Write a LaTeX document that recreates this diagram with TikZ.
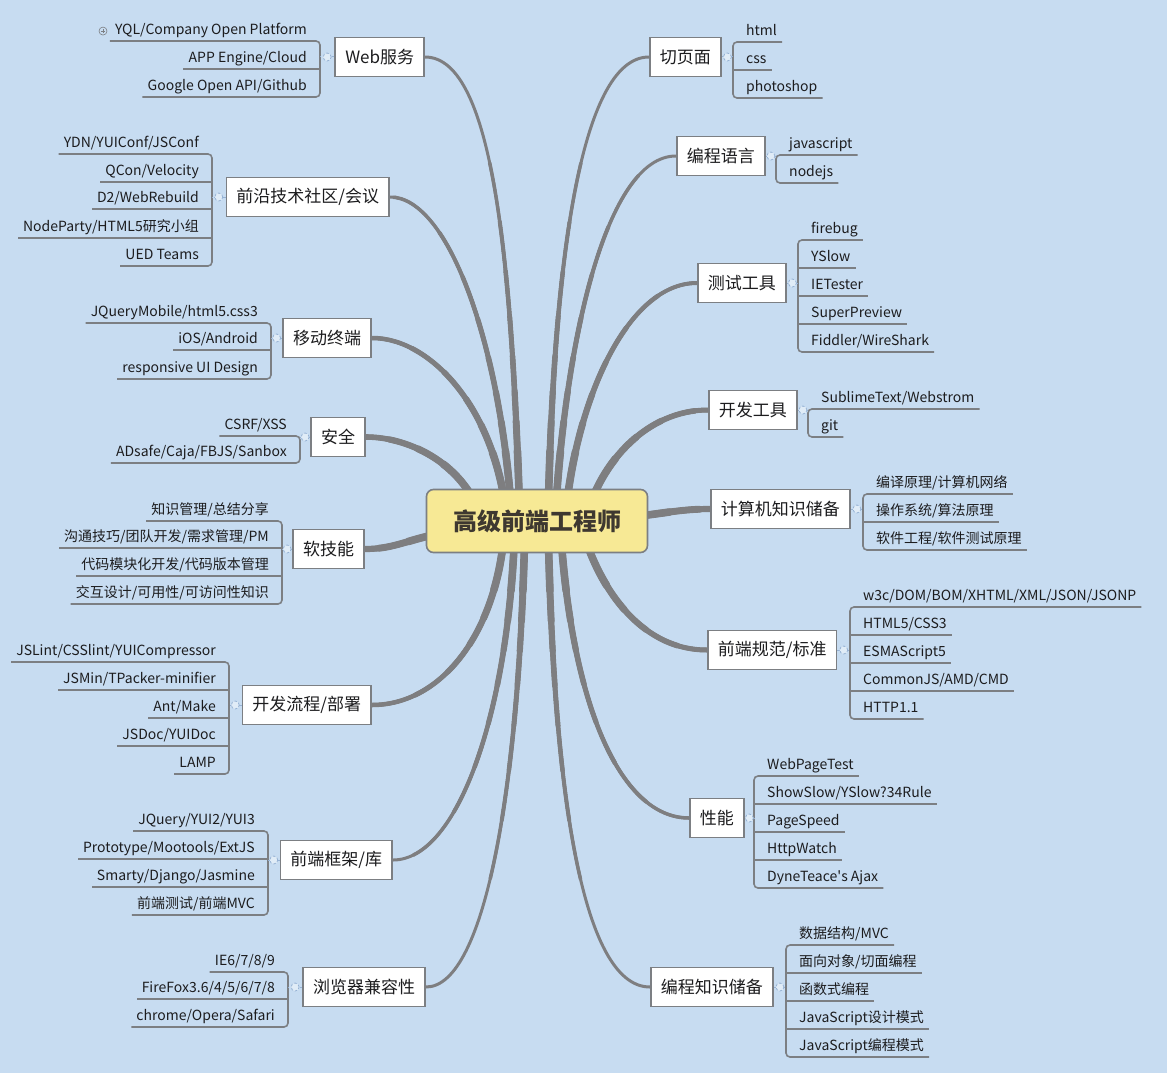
\documentclass[tikz,border=0pt]{standalone}
\usepackage{fontspec}
\setmainfont{Noto Sans CJK SC}
\usetikzlibrary{positioning,backgrounds}

\definecolor{paper}{RGB}{199,220,241}
\definecolor{limbgray}{RGB}{126,126,128}
\definecolor{boxgray}{RGB}{124,127,131}
\definecolor{hubfill}{RGB}{247,233,149}
\definecolor{hubtext}{RGB}{62,56,48}
\definecolor{inkdark}{RGB}{28,28,30}
\definecolor{stubblue}{RGB}{150,178,212}

\tikzset{
  hub/.style={draw=boxgray, fill=hubfill, line width=1.6pt, rounded corners=7pt, minimum width=221pt, minimum height=63pt, font=\fontsize{24}{28}\selectfont\bfseries, text=hubtext},
  topic/.style={draw=boxgray, fill=white, line width=1.8pt, inner xsep=10pt, minimum height=39pt, font=\fontsize{17}{20}\selectfont, text=inkdark},
  leaf/.style={inner xsep=5pt, inner ysep=3pt, text height=10pt, text depth=3.5pt, font=\fontsize{14}{16}\selectfont, text=inkdark},
  twig/.style={draw=boxgray, line width=1.6pt, rounded corners=4pt},
  stub/.style={draw=stubblue, line width=1pt, dash pattern=on 2.5pt off 2pt},
  knob/.style={circle, draw=stubblue, fill=paper!55!white, line width=0.8pt, minimum size=8pt, inner sep=0pt},
  plusknob/.style={circle, draw=boxgray, line width=0.6pt, minimum size=8pt, inner sep=0pt,
    path picture={\draw[boxgray, line width=0.6pt] ([xshift=-2pt]path picture bounding box.center) -- ([xshift=2pt]path picture bounding box.center) ([yshift=-2pt]path picture bounding box.center) -- ([yshift=2pt]path picture bounding box.center);}},
  limb/.style={draw=limbgray, line width=3pt, line cap=round,
    preaction={draw=limbgray, line width=3.5pt, line cap=round, dash pattern=on 360pt off 3000pt},
    preaction={draw=limbgray, line width=4pt, line cap=round, dash pattern=on 300pt off 3000pt},
    preaction={draw=limbgray, line width=4.5pt, line cap=round, dash pattern=on 250pt off 3000pt},
    preaction={draw=limbgray, line width=5pt, line cap=round, dash pattern=on 205pt off 3000pt},
    preaction={draw=limbgray, line width=5.6pt, line cap=round, dash pattern=on 165pt off 3000pt},
    preaction={draw=limbgray, line width=6.2pt, line cap=round, dash pattern=on 130pt off 3000pt},
    preaction={draw=limbgray, line width=6.9pt, line cap=round, dash pattern=on 100pt off 3000pt},
    preaction={draw=limbgray, line width=7.6pt, line cap=round, dash pattern=on 70pt off 3000pt}}
}

\begin{document}
\begin{tikzpicture}[x=1pt,y=-1pt]
	\useasboundingbox (0,0) rectangle (1167,1073);

	% Center
	\node[hub] (hub) at (537,521) {高级前端工程师};

	% Left topics
	\node[topic, anchor=east] (web) at (425,57) {Web服务};
	\node[topic, anchor=east] (forum) at (390,197) {前沿技术社区/会议};
	\node[topic, anchor=east] (mobile) at (372,338) {移动终端};
	\node[topic, anchor=east] (safe) at (366,437) {安全};
	\node[topic, anchor=east] (soft) at (365,549) {软技能};
	\node[topic, anchor=east] (flow) at (372,705) {开发流程/部署};
	\node[topic, anchor=east] (lib) at (393,860) {前端框架/库};
	\node[topic, anchor=east] (compat) at (426,987) {浏览器兼容性};

	% Right topics
	\node[topic, anchor=west] (slice) at (649,57) {切页面};
	\node[topic, anchor=west] (lang) at (676,156) {编程语言};
	\node[topic, anchor=west] (testt) at (697,283) {测试工具};
	\node[topic, anchor=west] (devt) at (708,410) {开发工具};
	\node[topic, anchor=west] (cs) at (710,509) {计算机知识储备};
	\node[topic, anchor=west] (spec) at (707,650) {前端规范/标准};
	\node[topic, anchor=west] (perf) at (689,818) {性能};
	\node[topic, anchor=west] (pk) at (650,987) {编程知识储备};

	% Junctions
	\coordinate (webj) at (320,57);
	\coordinate (forumj) at (212,197);
	\coordinate (mobilej) at (271,338);
	\coordinate (safej) at (300,437);
	\coordinate (softj) at (282,549);
	\coordinate (flowj) at (229,705);
	\coordinate (libj) at (268,860);
	\coordinate (compatj) at (288,987);
	\coordinate (slicej) at (733,57);
	\coordinate (langj) at (776,156);
	\coordinate (testtj) at (798,283);
	\coordinate (devtj) at (808,410);
	\coordinate (csj) at (863,509);
	\coordinate (specj) at (850,650);
	\coordinate (perfj) at (754,818);
	\coordinate (pkj) at (786,987);

	% Web服务
	\node[leaf, anchor=south east] (web1) at (312,41) {YQL/Company Open Platform};
	\node[leaf, anchor=south east] (web2) at (312,69) {APP Engine/Cloud};
	\node[leaf, anchor=south east] (web3) at (312,97) {Google Open API/Github};
	\node[plusknob, left=2.5pt of web1] (web1plus) {};
	\draw[twig] (web1.south west) -- (webj |- web1.south) -- (webj |- web3.south) -- (web3.south west);
	\draw[twig] (webj |- web2.south) -- (web2.south west);
	\draw[stub] (web.west) -- node[knob] (webk) {} (webj);

	% 前沿技术社区/会议
	\node[leaf, anchor=south east] (forum1) at (204,154) {YDN/YUIConf/JSConf};
	\node[leaf, anchor=south east] (forum2) at (204,182) {QCon/Velocity};
	\node[leaf, anchor=south east] (forum3) at (204,209) {D2/WebRebuild};
	\node[leaf, anchor=south east] (forum4) at (204,238) {NodeParty/HTML5研究小组};
	\node[leaf, anchor=south east] (forum5) at (204,266) {UED Teams};
	\draw[twig] (forum1.south west) -- (forumj |- forum1.south) -- (forumj |- forum5.south) -- (forum5.south west);
	\foreach \k in {2,3,4} \draw[twig] (forumj |- forum\k.south) -- (forum\k.south west);
	\draw[stub] (forum.west) -- node[knob] (forumk) {} (forumj);

	% 移动终端
	\node[leaf, anchor=south east] (mobile1) at (263,323) {JQueryMobile/html5.css3};
	\node[leaf, anchor=south east] (mobile2) at (263,350) {iOS/Android};
	\node[leaf, anchor=south east] (mobile3) at (263,379) {responsive UI Design};
	\draw[twig] (mobile1.south west) -- (mobilej |- mobile1.south) -- (mobilej |- mobile3.south) -- (mobile3.south west);
	\draw[twig] (mobilej |- mobile2.south) -- (mobile2.south west);
	\draw[stub] (mobile.west) -- node[knob] (mobilek) {} (mobilej);

	% 安全
	\node[leaf, anchor=south east] (safe1) at (292,436) {CSRF/XSS};
	\node[leaf, anchor=south east] (safe2) at (292,463) {ADsafe/Caja/FBJS/Sanbox};
	\draw[twig] (safe1.south west) -- (safej |- safe1.south) -- (safej |- safe2.south) -- (safe2.south west);
	\draw[stub] (safe.west) -- node[knob] (safek) {} (safej);

	% 软技能
	\node[leaf, anchor=south east] (soft1) at (274,521) {知识管理/总结分享};
	\node[leaf, anchor=south east] (soft2) at (274,548) {沟通技巧/团队开发/需求管理/PM};
	\node[leaf, anchor=south east] (soft3) at (274,576) {代码模块化开发/代码版本管理};
	\node[leaf, anchor=south east] (soft4) at (274,604) {交互设计/可用性/可访问性知识};
	\draw[twig] (soft1.south west) -- (softj |- soft1.south) -- (softj |- soft4.south) -- (soft4.south west);
	\foreach \k in {2,3} \draw[twig] (softj |- soft\k.south) -- (soft\k.south west);
	\draw[stub] (soft.west) -- node[knob] (softk) {} (softj);

	% 开发流程/部署
	\node[leaf, anchor=south east] (flow1) at (221,662) {JSLint/CSSlint/YUICompressor};
	\node[leaf, anchor=south east] (flow2) at (221,690) {JSMin/TPacker-minifier};
	\node[leaf, anchor=south east] (flow3) at (221,718) {Ant/Make};
	\node[leaf, anchor=south east] (flow4) at (221,746) {JSDoc/YUIDoc};
	\node[leaf, anchor=south east] (flow5) at (221,774) {LAMP};
	\draw[twig] (flow1.south west) -- (flowj |- flow1.south) -- (flowj |- flow5.south) -- (flow5.south west);
	\foreach \k in {2,3,4} \draw[twig] (flowj |- flow\k.south) -- (flow\k.south west);
	\draw[stub] (flow.west) -- node[knob] (flowk) {} (flowj);

	% 前端框架/库
	\node[leaf, anchor=south east] (lib1) at (260,831) {JQuery/YUI2/YUI3};
	\node[leaf, anchor=south east] (lib2) at (260,859) {Prototype/Mootools/ExtJS};
	\node[leaf, anchor=south east] (lib3) at (260,887) {Smarty/Django/Jasmine};
	\node[leaf, anchor=south east] (lib4) at (260,915) {前端测试/前端MVC};
	\draw[twig] (lib1.south west) -- (libj |- lib1.south) -- (libj |- lib4.south) -- (lib4.south west);
	\foreach \k in {2,3} \draw[twig] (libj |- lib\k.south) -- (lib\k.south west);
	\draw[stub] (lib.west) -- node[knob] (libk) {} (libj);

	% 浏览器兼容性
	\node[leaf, anchor=south east] (compat1) at (280,972) {IE6/7/8/9};
	\node[leaf, anchor=south east] (compat2) at (280,999) {FireFox3.6/4/5/6/7/8};
	\node[leaf, anchor=south east] (compat3) at (280,1027) {chrome/Opera/Safari};
	\draw[twig] (compat1.south west) -- (compatj |- compat1.south) -- (compatj |- compat3.south) -- (compat3.south west);
	\draw[twig] (compatj |- compat2.south) -- (compat2.south west);
	\draw[stub] (compat.west) -- node[knob] (compatk) {} (compatj);

	% 切页面
	\node[leaf, anchor=south west] (slice1) at (741,42) {html};
	\node[leaf, anchor=south west] (slice2) at (741,70) {css};
	\node[leaf, anchor=south west] (slice3) at (741,98) {photoshop};
	\draw[twig] (slice1.south east) -- (slicej |- slice1.south) -- (slicej |- slice3.south) -- (slice3.south east);
	\draw[twig] (slicej |- slice2.south) -- (slice2.south east);
	\draw[stub] (slice.east) -- node[knob] (slicek) {} (slicej);

	% 编程语言
	\node[leaf, anchor=south west] (lang1) at (784,155) {javascript};
	\node[leaf, anchor=south west] (lang2) at (784,183) {nodejs};
	\draw[twig] (lang1.south east) -- (langj |- lang1.south) -- (langj |- lang2.south) -- (lang2.south east);
	\draw[stub] (lang.east) -- node[knob] (langk) {} (langj);

	% 测试工具
	\node[leaf, anchor=south west] (testt1) at (806,240) {firebug};
	\node[leaf, anchor=south west] (testt2) at (806,268) {YSlow};
	\node[leaf, anchor=south west] (testt3) at (806,296) {IETester};
	\node[leaf, anchor=south west] (testt4) at (806,324) {SuperPreview};
	\node[leaf, anchor=south west] (testt5) at (806,352) {Fiddler/WireShark};
	\draw[twig] (testt1.south east) -- (testtj |- testt1.south) -- (testtj |- testt5.south) -- (testt5.south east);
	\foreach \k in {2,3,4} \draw[twig] (testtj |- testt\k.south) -- (testt\k.south east);
	\draw[stub] (testt.east) -- node[knob] (testtk) {} (testtj);

	% 开发工具
	\node[leaf, anchor=south west] (devt1) at (816,409) {SublimeText/Webstrom};
	\node[leaf, anchor=south west] (devt2) at (816,437) {git};
	\draw[twig] (devt1.south east) -- (devtj |- devt1.south) -- (devtj |- devt2.south) -- (devt2.south east);
	\draw[stub] (devt.east) -- node[knob] (devtk) {} (devtj);

	% 计算机知识储备
	\node[leaf, anchor=south west] (cs1) at (871,494) {编译原理/计算机网络};
	\node[leaf, anchor=south west] (cs2) at (871,522) {操作系统/算法原理};
	\node[leaf, anchor=south west] (cs3) at (871,550) {软件工程/软件测试原理};
	\draw[twig] (cs1.south east) -- (csj |- cs1.south) -- (csj |- cs3.south) -- (cs3.south east);
	\draw[twig] (csj |- cs2.south) -- (cs2.south east);
	\draw[stub] (cs.east) -- node[knob] (csk) {} (csj);

	% 前端规范/标准
	\node[leaf, anchor=south west] (spec1) at (858,607) {w3c/DOM/BOM/XHTML/XML/JSON/JSONP};
	\node[leaf, anchor=south west] (spec2) at (858,635) {HTML5/CSS3};
	\node[leaf, anchor=south west] (spec3) at (858,663) {ESMAScript5};
	\node[leaf, anchor=south west] (spec4) at (858,691) {CommonJS/AMD/CMD};
	\node[leaf, anchor=south west] (spec5) at (858,719) {HTTP1.1};
	\draw[twig] (spec1.south east) -- (specj |- spec1.south) -- (specj |- spec5.south) -- (spec5.south east);
	\foreach \k in {2,3,4} \draw[twig] (specj |- spec\k.south) -- (spec\k.south east);
	\draw[stub] (spec.east) -- node[knob] (speck) {} (specj);

	% 性能
	\node[leaf, anchor=south west] (perf1) at (762,776) {WebPageTest};
	\node[leaf, anchor=south west] (perf2) at (762,804) {ShowSlow/YSlow?34Rule};
	\node[leaf, anchor=south west] (perf3) at (762,832) {PageSpeed};
	\node[leaf, anchor=south west] (perf4) at (762,860) {HttpWatch};
	\node[leaf, anchor=south west] (perf5) at (762,888) {DyneTeace\textquotesingle s Ajax};
	\draw[twig] (perf1.south east) -- (perfj |- perf1.south) -- (perfj |- perf5.south) -- (perf5.south east);
	\foreach \k in {2,3,4} \draw[twig] (perfj |- perf\k.south) -- (perf\k.south east);
	\draw[stub] (perf.east) -- node[knob] (perfk) {} (perfj);

	% 编程知识储备
	\node[leaf, anchor=south west] (pk1) at (794,945) {数据结构/MVC};
	\node[leaf, anchor=south west] (pk2) at (794,973) {面向对象/切面编程};
	\node[leaf, anchor=south west] (pk3) at (794,1001) {函数式编程};
	\node[leaf, anchor=south west] (pk4) at (794,1029) {JavaScript设计模式};
	\node[leaf, anchor=south west] (pk5) at (794,1057) {JavaScript编程模式};
	\draw[twig] (pk1.south east) -- (pkj |- pk1.south) -- (pkj |- pk5.south) -- (pk5.south east);
	\foreach \k in {2,3,4} \draw[twig] (pkj |- pk\k.south) -- (pk\k.south east);
	\draw[stub] (pk.east) -- node[knob] (pkk) {} (pkj);

	% Branches from the center
	\begin{pgfonlayer}{background}
	\fill[paper] (0,0) rectangle (1167,1073);
	\draw[limb] ([xshift=-17pt]hub.center) .. controls +(-8,-250) and +(70,0) .. (web.east);
	\draw[limb] ([xshift=-25pt]hub.center) .. controls +(-10,-170) and +(60,0) .. (forum.east);
	\draw[limb] ([xshift=-30pt]hub.center) .. controls +(-10,-110) and +(60,0) .. (mobile.east);
	\draw[limb] ([xshift=-55pt]hub.center) .. controls +(-15,-55) and +(45,0) .. (safe.east);
	\draw[limb] ([xshift=-60pt,yshift=-10pt]hub.center) .. controls +(-60,0) and +(40,0) .. (soft.east);
	\draw[limb] ([xshift=-32pt]hub.center) .. controls +(-5,110) and +(70,0) .. (flow.east);
	\draw[limb] ([xshift=-22pt]hub.center) .. controls +(-5,190) and +(65,0) .. (lib.east);
	\draw[limb] ([xshift=-12pt]hub.center) .. controls +(-5,260) and +(60,0) .. (compat.east);
	\draw[limb] ([xshift=11pt]hub.center) .. controls +(5,-250) and +(-70,0) .. (slice.west);
	\draw[limb] ([xshift=18pt]hub.center) .. controls +(10,-180) and +(-70,0) .. (lang.west);
	\draw[limb] ([xshift=28pt]hub.center) .. controls +(10,-120) and +(-70,0) .. (testt.west);
	\draw[limb] ([xshift=48pt]hub.center) .. controls +(15,-60) and +(-60,0) .. (devt.west);
	\draw[limb] ([xshift=63pt,yshift=3pt]hub.center) .. controls +(50,0) and +(-40,0) .. (cs.west);
	\draw[limb] ([xshift=43pt]hub.center) .. controls +(15,60) and +(-70,0) .. (spec.west);
	\draw[limb] ([xshift=23pt]hub.center) .. controls +(10,180) and +(-70,0) .. (perf.west);
	\draw[limb] ([xshift=11pt]hub.center) .. controls +(5,260) and +(-70,0) .. (pk.west);
	\end{pgfonlayer}
\end{tikzpicture}
\end{document}
